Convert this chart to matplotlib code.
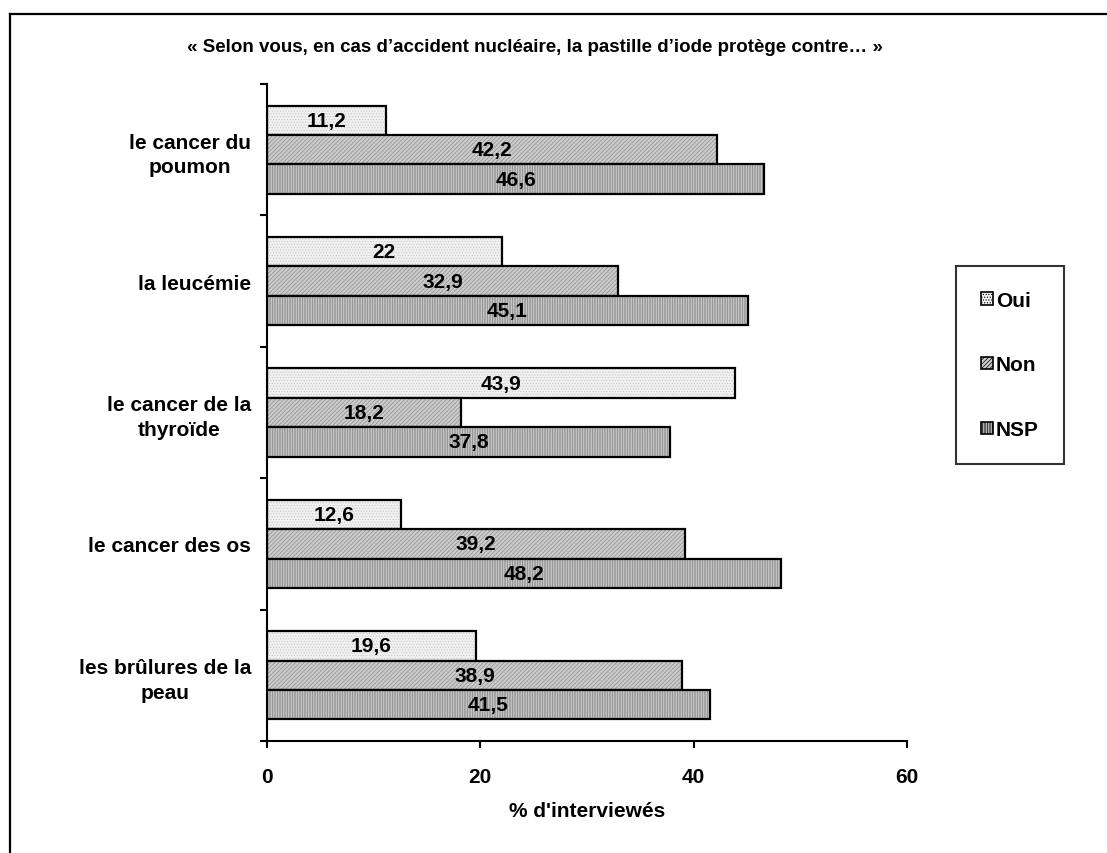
import numpy as np
import matplotlib
matplotlib.use("Agg")
import matplotlib.pyplot as plt
from matplotlib.patches import Patch
from matplotlib.lines import Line2D

# data
categories = ["le cancer du\npoumon", "la leucémie", "le cancer de la\nthyroïde",
              "le cancer des os", "les brûlures de la\npeau"]
oui = [11.2, 22, 43.9, 12.6, 19.6]
non = [42.2, 32.9, 18.2, 39.2, 38.9]
nsp = [46.6, 45.1, 37.8, 48.2, 41.5]
series_names = ["Oui", "Non", "NSP"]
x_ticks = [0, 20, 40, 60]

plt.rcParams['font.family'] = ['Liberation Sans', 'DejaVu Sans']
plt.rcParams['font.weight'] = 'bold'
plt.rcParams['hatch.linewidth'] = 0.5

FS = 15

# face colour, hatch, hatch colour for each series
styles = [
    ('#f1f1f1', '......', '#c8c8c8'),
    ('#cdcdcd', '////////', '#8c8c8c'),
    ('#d4d4d4', '||||||||||', '#7a7a7a'),
]

W, H = 1107, 854
fig = plt.figure(figsize=(W / 100, H / 100), dpi=100)
ax = fig.add_axes([267 / W, 1 - 742 / H, (907 - 267) / W, (742 - 85) / H])

y = np.arange(len(categories))
h = 0.67 / 3
for k, (vals, (fc, hatch, hc)) in enumerate(zip([oui, non, nsp], styles)):
    pos = y + (k - 1) * h
    ax.barh(pos, vals, height=h, color=fc, hatch=hatch, edgecolor=hc, linewidth=0)
    ax.barh(pos, vals, height=h, fill=False, edgecolor='black', linewidth=1.6)
    for p, v in zip(pos, vals):
        ax.text(v / 2, p, f"{v:g}".replace('.', ','), ha='center', va='center',
                fontsize=FS, fontweight='bold')

ax.set_xlim(0, 60)
ax.set_ylim(len(categories) - 0.5, -0.5)
ax.set_xticks(x_ticks)
ax.tick_params(axis='x', length=5, width=1.5, pad=14, labelsize=FS)
ax.set_yticks(np.arange(len(categories) + 1) - 0.5)
ax.set_yticklabels([])
ax.tick_params(axis='y', which='major', length=5, width=1.5)
ax.set_yticks(y, minor=True)
ax.set_yticklabels(categories, minor=True, fontsize=FS, fontweight='bold',
                   multialignment='center', linespacing=1.35)
ax.tick_params(axis='y', which='minor', length=0, pad=11.5)
for s in ['top', 'right']:
    ax.spines[s].set_visible(False)
for s in ['left', 'bottom']:
    ax.spines[s].set_linewidth(1.5)

fig.text(535 / W, 1 - 47 / H,
         "« Selon vous, en cas d’accident nucléaire, la pastille d’iode protège contre… »",
         ha='center', va='center', fontsize=13.5, fontweight='bold')
fig.text(587 / W, 1 - 812 / H, "% d'interviewés", ha='center', va='center',
         fontsize=FS, fontweight='bold')

handles = [Patch(facecolor=fc, hatch=hatch, edgecolor='black', linewidth=1.2)
           for fc, hatch, hc in styles]
leg = fig.legend(handles, series_names, loc='center',
                 bbox_to_anchor=(1010 / W, 1 - 366 / H),
                 frameon=True, fancybox=False, labelspacing=2.2,
                 handlelength=0.55, handleheight=0.55, handletextpad=0.15,
                 borderpad=1.2, borderaxespad=0,
                 prop={'size': FS, 'weight': 'bold'})
leg.get_frame().set_edgecolor('black')
leg.get_frame().set_linewidth(1.5)

# outer border (top and left only visible)
fig.add_artist(Line2D([10 / W, 1], [1 - 15 / H, 1 - 15 / H], color='black', lw=1.6,
                      transform=fig.transFigure))
fig.add_artist(Line2D([10 / W, 10 / W], [1 - 15 / H, 0], color='black', lw=1.6,
                      transform=fig.transFigure))

fig.savefig("out.png", dpi=100)
